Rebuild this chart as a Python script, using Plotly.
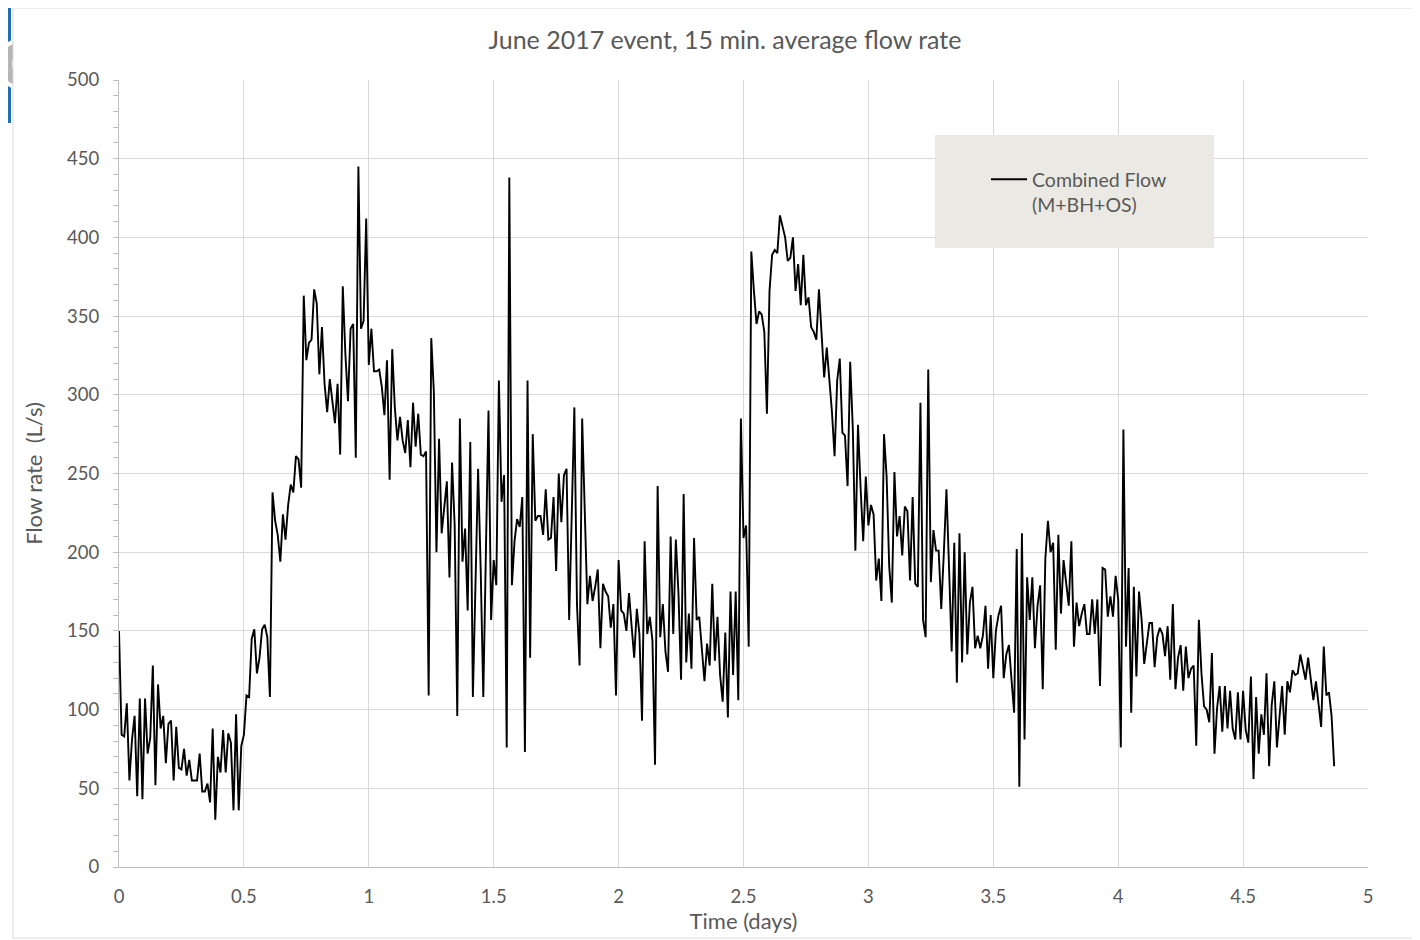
import plotly.graph_objects as go

# 15-minute average combined flow (L/s) in half-day chunks
flow_d0_0 = [150, 84, 83, 104, 55, 81, 96, 45, 107, 43,
             107, 72, 82, 128, 52, 116, 88, 96, 66, 91,
             93, 55, 89, 63, 62, 75, 58, 68, 55, 55,
             55, 72, 48, 48, 53, 41, 88, 30, 70, 60,
             87, 60, 85, 79, 36, 97, 36, 77, 84]
flow_d0_5 = [109, 108, 145, 151, 123, 133, 151, 154, 146, 108,
             238, 220, 211, 194, 224, 208, 230, 243, 238, 261,
             259, 241, 363, 322, 333, 335, 367, 358, 313, 343,
             307, 289, 310, 296, 282, 307, 262, 369, 326, 296,
             342, 345, 260, 445, 342, 347, 412, 319, 342]
flow_d1_0 = [315, 315, 316, 305, 287, 322, 246, 329, 292, 271,
             286, 271, 263, 284, 254, 295, 267, 288, 262, 261,
             264, 109, 336, 302, 200, 272, 212, 227, 245, 184,
             257, 217, 96, 285, 194, 215, 163, 270, 108, 180,
             253, 189, 108, 200, 290, 157, 195, 179]
flow_d1_5 = [309, 232, 249, 76, 438, 179, 207, 221, 216, 235,
             73, 309, 133, 275, 220, 223, 223, 211, 240, 208,
             209, 235, 188, 250, 219, 249, 253, 157, 230, 292,
             167, 128, 285, 217, 167, 185, 169, 178, 189, 139,
             180, 175, 172, 152, 167, 109, 195]
flow_d2_0 = [163, 161, 150, 174, 153, 133, 164, 148, 93, 207,
             148, 159, 144, 65, 242, 146, 167, 137, 124, 210,
             148, 208, 174, 119, 237, 130, 161, 126, 209, 157,
             159, 135, 118, 142, 128, 180, 131, 159, 122, 105,
             149, 95, 175, 122, 175, 106, 285, 209, 217, 140]
flow_d2_5 = [391, 366, 345, 353, 351, 340, 288, 366, 389, 392,
             390, 414, 406, 400, 385, 387, 400, 366, 383, 357,
             389, 357, 362, 343, 340, 335, 367, 336, 311, 330,
             309, 289, 261, 309, 323, 276, 274, 242, 321, 279,
             201, 281, 241, 207, 248, 217, 230, 224]
flow_d3_0 = [182, 196, 169, 275, 248, 191, 168, 251, 210, 223,
             198, 229, 226, 182, 235, 180, 178, 295, 157, 146,
             316, 181, 214, 201, 201, 164, 200, 240, 190, 137,
             206, 117, 212, 130, 200, 135, 168, 178, 139, 147,
             139, 147, 166, 126, 160, 120]
flow_d3_5 = [150, 160, 166, 120, 135, 141, 119, 98, 202, 51,
             212, 81, 184, 157, 184, 139, 166, 179, 113, 196,
             220, 200, 206, 138, 211, 161, 195, 180, 166, 207,
             140, 168, 153, 161, 167, 148, 148, 170, 148, 170,
             115, 190, 189, 159, 172, 159, 185, 170]
flow_d4_0 = [76, 278, 140, 190, 98, 178, 121, 175, 157, 129,
             144, 155, 155, 127, 146, 152, 148, 134, 153, 119,
             167, 113, 133, 141, 112, 140, 120, 126, 128, 77,
             157, 123, 102, 100, 92, 136, 72, 101, 115, 86,
             115, 88, 112, 88, 81, 111, 81, 112]
flow_d4_5 = [87, 79, 121, 56, 108, 72, 97, 84, 123, 64,
             103, 118, 76, 97, 115, 84, 118, 111, 125, 122,
             123, 135, 127, 119, 133, 119, 106, 118, 103, 89,
             140, 109, 111, 96, 64]

SAMPLE_MINUTES = 15
flow = (flow_d0_0 + flow_d0_5 + flow_d1_0 + flow_d1_5 + flow_d2_0 +
        flow_d2_5 + flow_d3_0 + flow_d3_5 + flow_d4_0 + flow_d4_5)
time_days = [i * SAMPLE_MINUTES / 1440 for i in range(len(flow))]

x_ticks = [0, 0.5, 1, 1.5, 2, 2.5, 3, 3.5, 4, 4.5, 5]
x_tick_text = ["0", "0.5", "1", "1.5", "2", "2.5", "3", "3.5", "4", "4.5", "5"]
y_ticks = [0, 50, 100, 150, 200, 250, 300, 350, 400, 450, 500]

TITLE = "June 2017 event, 15 min. average flow rate"
SERIES = "Combined Flow<br>(M+BH+OS)"

# page geometry (the browser page adds an 8 px body margin at top-left)
PAGE_W, PAGE_H = 1420, 940
OFF = 8
W, H = PAGE_W - OFF, PAGE_H - OFF
L, R, T, B = 119, 1368, 80, 867          # plot area in page pixels
FONT = "Lato"
TXT = "#595959"
GRID = "#d9d9d9"


def px(x):
    return (x - L) / (R - L)


def py(y):
    return (B - y) / (B - T)


fig = go.Figure()
fig.add_trace(go.Scatter(x=time_days, y=flow, mode="lines", name=SERIES,
                         line=dict(color="#000000", width=1.9)))

shapes = [
    # blue tab at left edge
    dict(type="rect", xref="paper", yref="paper", x0=px(4), x1=px(11), y0=py(5), y1=py(123),
         fillcolor="#1f6fb2", line=dict(width=0), layer="above"),
    dict(type="circle", xref="paper", yref="paper", x0=px(-4), x1=px(48), y0=py(38), y1=py(90),
         fillcolor="white", line=dict(width=0), layer="above"),
    dict(type="circle", xref="paper", yref="paper", x0=px(0), x1=px(44), y0=py(42), y1=py(86),
         fillcolor="#b5b5b5", line=dict(width=0), layer="above"),
    dict(type="circle", xref="paper", yref="paper", x0=px(12), x1=px(34), y0=py(53), y1=py(75),
         fillcolor="white", line=dict(width=0), layer="above"),
    dict(type="rect", xref="paper", yref="paper", x0=px(13), x1=px(55), y0=py(30), y1=py(100),
         fillcolor="white", line=dict(width=0), layer="above"),
    # outer chart frame
    dict(type="rect", xref="paper", yref="paper", x0=px(13), x1=px(1417), y0=py(8), y1=py(938),
         fillcolor="rgba(0,0,0,0)", line=dict(color="#d9d9d9", width=1), layer="above"),
    # legend box
    dict(type="rect", xref="paper", yref="paper", x0=px(935), x1=px(1214), y0=py(135), y1=py(248),
         fillcolor="#ebe9e3", line=dict(width=0), layer="above"),
]

fig.update_layout(
    width=W, height=H,
    margin=dict(l=L - OFF, r=PAGE_W - R, t=T - OFF, b=PAGE_H - B, pad=0, autoexpand=False),
    paper_bgcolor="white", plot_bgcolor="white",
    font=dict(family=FONT, color=TXT, size=18),
    title=dict(text=TITLE, x=px(725), xanchor="center", xref="paper",
               y=1 - (40 - OFF) / H, yanchor="middle",
               font=dict(family=FONT, size=25, color=TXT)),
    showlegend=True,
    legend=dict(x=px(986), xanchor="left", y=py(160), yanchor="top",
                bgcolor="rgba(0,0,0,0)", borderwidth=0, valign="top", itemwidth=36,
                font=dict(family=FONT, size=19.5, color=TXT)),
    shapes=shapes,
    xaxis=dict(range=[0, 5], tickmode="array", tickvals=x_ticks, ticktext=x_tick_text,
               showgrid=True, gridcolor=GRID, gridwidth=1, zeroline=False, automargin=False,
               showline=True, linecolor="#bfbfbf", linewidth=1, ticks="",
               ticklabelstandoff=13, tickfont=dict(size=18.5, color=TXT),
               title=dict(text="Time (days)", standoff=7, font=dict(size=22, color=TXT))),
    yaxis=dict(range=[0, 500], tickmode="array", tickvals=y_ticks,
               showgrid=True, gridcolor=GRID, gridwidth=1, zeroline=False, automargin=False,
               showline=True, linecolor="#bfbfbf", linewidth=1,
               ticks="outside", ticklen=5, tickcolor="#bfbfbf",
               minor=dict(dtick=10, ticks="outside", ticklen=5, tickcolor="#bfbfbf", showgrid=False),
               ticklabelstandoff=10, tickfont=dict(size=18.5, color=TXT),
               title=dict(text="Flow rate  (L/s)", standoff=18, font=dict(size=22, color=TXT))),
)

fig.write_html("out.html")
